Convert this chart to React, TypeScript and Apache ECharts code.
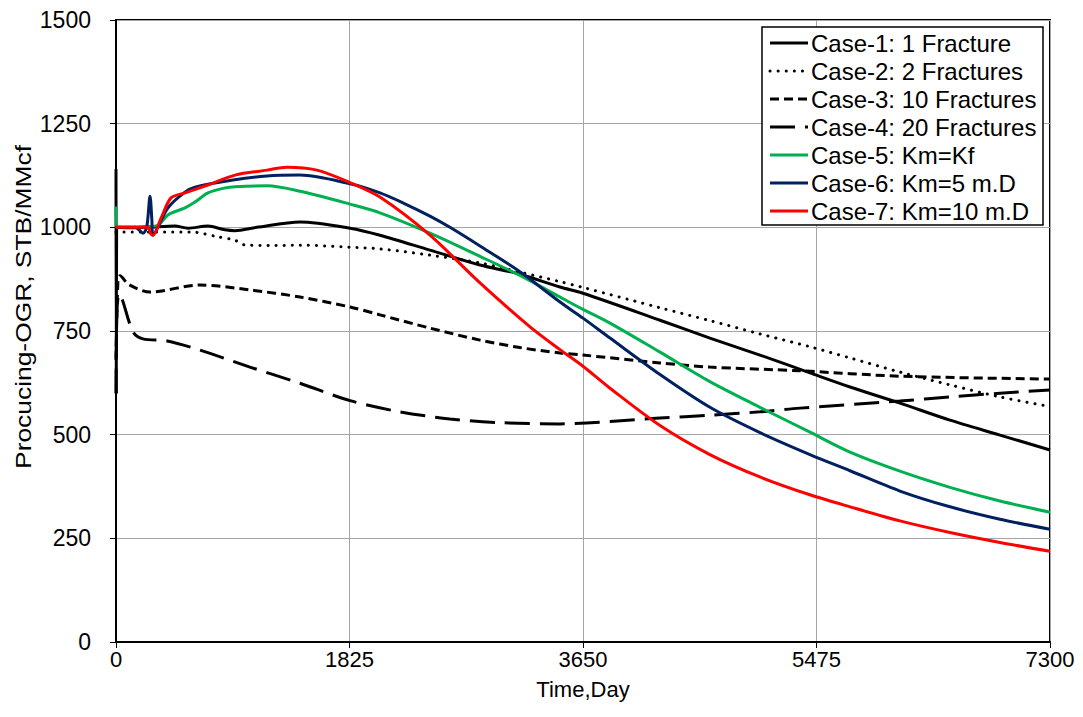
import React, { useEffect, useRef } from "react";
import * as echarts from "echarts";

const seriesNames = [
  "Case-1: 1 Fracture",
  "Case-2: 2 Fractures",
  "Case-3: 10 Fractures",
  "Case-4: 20 Fractures",
  "Case-5: Km=Kf",
  "Case-6: Km=5 m.D",
  "Case-7: Km=10 m.D",
];
const seriesColors = ["#000000", "#000000", "#000000", "#000000", "#00B050", "#002060", "#FF0000"];

const xTicks = [0, 1825, 3650, 5475, 7300];
const yTicks = [0, 250, 500, 750, 1000, 1250, 1500];

const case1: [number, number][] = [
  [0, 1140], [2, 600], [5, 1000], [100, 999], [250, 1000], [461, 1003], [563, 998], [719, 1003],
  [852, 994], [930, 992], [1100, 1000], [1438, 1013], [1829, 998], [2063, 981], [2454, 945],
  [2845, 909], [3157, 887], [3470, 856], [3650, 841], [4252, 776], [4642, 733], [5033, 692],
  [5424, 649], [5737, 615], [6127, 576], [6518, 535], [6909, 499], [7300, 463],
];
const case2: [number, number][] = [
  [0, 989], [300, 989], [586, 989], [797, 977], [930, 969], [1000, 958], [1200, 956], [1438, 957],
  [1829, 952], [2063, 948], [2454, 933], [2845, 914], [3157, 892], [3470, 869], [3650, 855],
  [4252, 806], [4642, 775], [5033, 743], [5424, 712], [5737, 685], [6127, 651], [6518, 620],
  [6909, 591], [7300, 568],
];
const case3: [number, number][] = [
  [0, 680], [15, 870], [31, 883], [100, 862], [266, 844], [656, 861], [1047, 849], [1438, 832],
  [1829, 808], [2063, 789], [2454, 757], [2845, 728], [3157, 710], [3470, 697], [3650, 692],
  [4252, 673], [4642, 663], [5346, 654], [6127, 641], [7300, 634],
];
const case4: [number, number][] = [
  [0, 600], [8, 800], [25, 838], [133, 748], [211, 731], [400, 726], [656, 704], [1047, 663],
  [1438, 624], [1829, 582], [2220, 555], [2610, 538], [3000, 529], [3470, 526], [4252, 540],
  [4642, 547], [5033, 555], [5346, 564], [6127, 581], [6518, 591], [6909, 600], [7300, 608],
];
const case5: [number, number][] = [
  [0, 1050], [2, 1000], [100, 1000], [250, 1002], [328, 1005], [406, 1030], [539, 1047],
  [617, 1061], [719, 1083], [852, 1095], [930, 1098], [1180, 1100], [1438, 1087], [1829, 1056],
  [2063, 1035], [2454, 986], [2845, 930], [3157, 884], [3470, 832], [3650, 802], [3861, 769],
  [4252, 699], [4642, 628], [5033, 566], [5424, 506], [5737, 458], [6127, 412], [6518, 373],
  [6909, 340], [7300, 313],
];
const case6: [number, number][] = [
  [0, 1000], [150, 1000], [211, 986], [240, 1000], [266, 1075], [280, 1020], [289, 981],
  [406, 1047], [539, 1085], [617, 1097], [914, 1114], [1180, 1124], [1438, 1126], [1829, 1105],
  [2063, 1083], [2250, 1058], [2454, 1027], [2610, 1000], [2845, 955], [3157, 893], [3470, 820],
  [3650, 781], [3861, 733], [4252, 645], [4642, 566], [5033, 505], [5424, 452], [5737, 413],
  [6127, 364], [6518, 326], [6909, 296], [7300, 272],
];
const case7: [number, number][] = [
  [0, 1000], [250, 1000], [270, 985], [289, 981], [352, 1022], [430, 1071], [539, 1083],
  [719, 1102], [930, 1126], [1180, 1138], [1336, 1145], [1570, 1138], [1829, 1108], [2063, 1073],
  [2454, 981], [2845, 866], [3236, 760], [3470, 705], [3650, 665], [3861, 612], [4252, 522],
  [4642, 452], [5033, 398], [5424, 355], [5737, 326], [6127, 292], [6518, 264], [6909, 240],
  [7300, 219],
];

const allData = [case1, case2, case3, case4, case5, case6, case7];
const dashes: any[] = ["solid", [0.1, 8], [9, 5], [25, 10], "solid", "solid", "solid"];
const caps = ["butt", "round", "butt", "butt", "butt", "butt", "butt"];

const FONT = "Liberation Sans, Arial, Helvetica, sans-serif";

function dashArray(d: any): number[] | null {
  return Array.isArray(d) ? d : null;
}

export default function App() {
  const ref = useRef<HTMLDivElement>(null);
  useEffect(() => {
    const chart = echarts.init(ref.current!, null, { renderer: "svg" });

    const legendLeft = 762;
    const legendTop = 27;
    const rowH = 28;
    const legendItems: any[] = [
      {
        type: "rect",
        shape: { x: legendLeft, y: legendTop, width: 281, height: 198 },
        style: { fill: "#fff", stroke: "#000", lineWidth: 1.5 },
        z: 100,
      },
    ];
    seriesNames.forEach((name, i) => {
      const cy = legendTop + 16 + rowH * i;
      legendItems.push({
        type: "line",
        shape: { x1: legendLeft + 8, y1: cy, x2: legendLeft + 46, y2: cy },
        style: {
          stroke: seriesColors[i],
          lineWidth: 3,
          lineDash: dashArray(dashes[i]),
          lineCap: caps[i],
        },
        z: 101,
      });
      legendItems.push({
        type: "text",
        x: legendLeft + 49,
        y: cy,
        style: {
          text: name,
          fontSize: 24,
          fontFamily: FONT,
          fill: "#000",
          align: "left",
          verticalAlign: "middle",
        },
        z: 101,
      });
    });

    chart.setOption({
      animation: false,
      backgroundColor: "#ffffff",
      textStyle: { fontFamily: FONT },
      grid: {
        left: 116,
        right: 33,
        top: 20,
        bottom: 75,
        show: true,
        borderColor: "#000",
        borderWidth: 2,
        backgroundColor: "transparent",
      },
      xAxis: {
        type: "value",
        min: xTicks[0],
        max: xTicks[xTicks.length - 1],
        interval: xTicks[1] - xTicks[0],
        name: "Time,Day",
        nameLocation: "middle",
        nameGap: 36,
        nameTextStyle: { fontSize: 22, color: "#000", fontFamily: FONT },
        axisLine: { show: true, lineStyle: { color: "#000", width: 2 } },
        axisTick: { show: true, length: 6, lineStyle: { color: "#000", width: 1 } },
        axisLabel: {
          fontSize: 22,
          color: "#000",
          margin: 6,
          fontFamily: FONT,
          formatter: (v: number) => String(v),
        },
        splitLine: { show: true, lineStyle: { color: "#a6a6a6", width: 1 } },
      },
      yAxis: {
        type: "value",
        min: yTicks[0],
        max: yTicks[yTicks.length - 1],
        interval: yTicks[1] - yTicks[0],
        axisLine: { show: true, lineStyle: { color: "#000", width: 2 } },
        axisTick: { show: true, length: 6, lineStyle: { color: "#000", width: 1 } },
        axisLabel: {
          fontSize: 23,
          color: "#000",
          margin: 25,
          fontFamily: FONT,
          formatter: (v: number) => String(v),
        },
        splitLine: { show: true, lineStyle: { color: "#a6a6a6", width: 1 } },
      },
      graphic: [
        {
          type: "text",
          x: 23,
          y: 307,
          rotation: Math.PI / 2,
          scaleX: 1.2,
          style: {
            text: "Procucing-OGR, STB/MMcf",
            fontSize: 22,
            fontFamily: FONT,
            fill: "#000",
            align: "center",
            verticalAlign: "middle",
          },
        },
        ...legendItems,
      ],
      series: allData.map((d, i) => ({
        name: seriesNames[i],
        type: "line",
        data: d,
        showSymbol: false,
        symbol: "none",
        smooth: 0.3,
        color: seriesColors[i],
        lineStyle: { color: seriesColors[i], width: 3, type: dashes[i], cap: caps[i] },
        z: 2 + i,
      })),
    });
    return () => chart.dispose();
  }, []);
  return (
    <div
      ref={ref}
      style={{ position: "fixed", left: 0, top: 0, width: 1083, height: 717, background: "#fff" }}
    />
  );
}
